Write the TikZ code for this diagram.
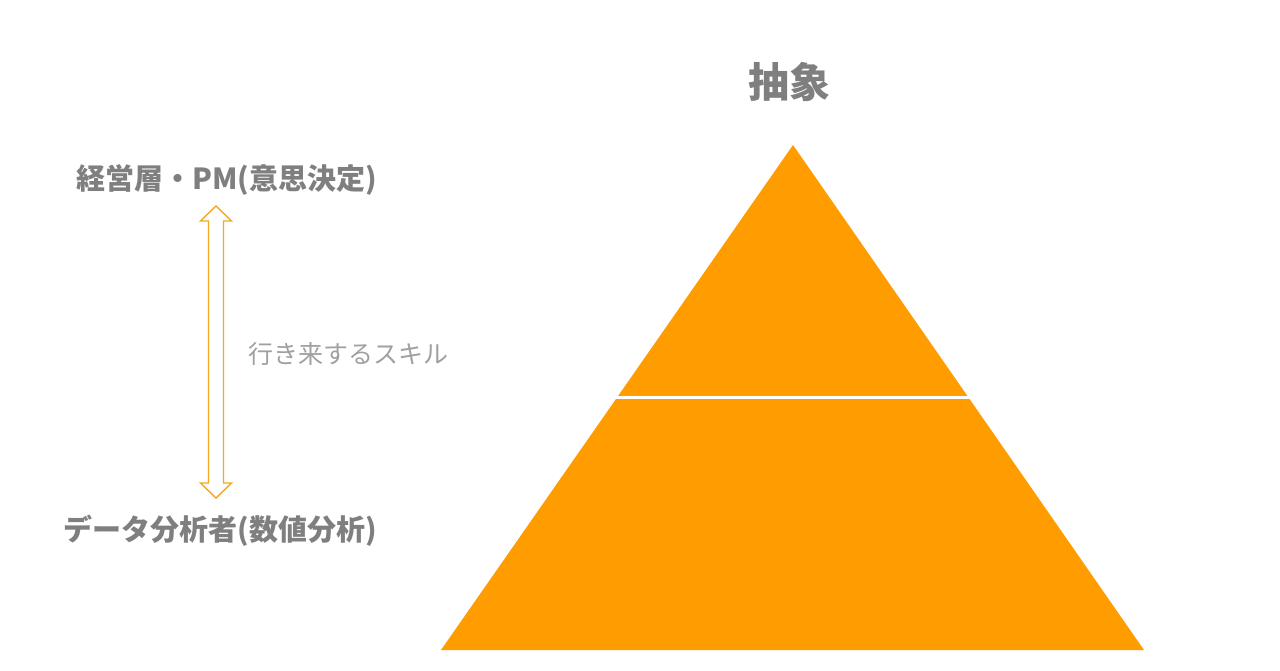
\documentclass[tikz,border=0pt]{standalone}
\usepackage{fontspec}
\newfontfamily\jp{Noto Sans CJK JP}
\definecolor{pyr}{HTML}{FF9C00}
\definecolor{arr}{HTML}{F5A623}
\definecolor{txt}{HTML}{7F7F7F}
\definecolor{txtl}{HTML}{A0A0A0}
\tikzset{
  lbl/.style={inner sep=0pt, text=txt, font=\jp\bfseries\fontsize{29}{32}\selectfont},
  title/.style={inner sep=0pt, text=txt, font=\jp\bfseries\fontsize{41}{45}\selectfont},
  note/.style={inner sep=0pt, text=txtl, font=\jp\fontsize{25}{29}\selectfont},
  dblarrow/.style={draw=arr, line width=1.4pt, fill=white, line join=miter}
}
\begin{document}
\begin{tikzpicture}[x=1pt,y=-1pt]
\useasboundingbox[fill=white] (0,0) rectangle (1280,670);
% pyramid
\fill[pyr] (793,145) -- (1144,650) -- (441,650) -- cycle;
\draw[white, line width=3pt] (615,397.5) -- (970,397.5);
% labels
\node[title] (abs) at (789,82) {抽象};
\node[lbl, anchor=east] (top) at (377,180) {経営層・PM(意思決定)};
\node[lbl, anchor=east] (bot) at (377,531) {データ分析者(数値分析)};
\node[note, anchor=west] (skill) at (248,354) {行き来するスキル};
% double arrow
\draw[dblarrow] (216,206) -- (231.5,221) -- (223.5,221) -- (223.5,483) -- (231.5,483)
  -- (216,498) -- (200.5,483) -- (208.5,483) -- (208.5,221) -- (200.5,221) -- cycle;
\end{tikzpicture}
\end{document}
